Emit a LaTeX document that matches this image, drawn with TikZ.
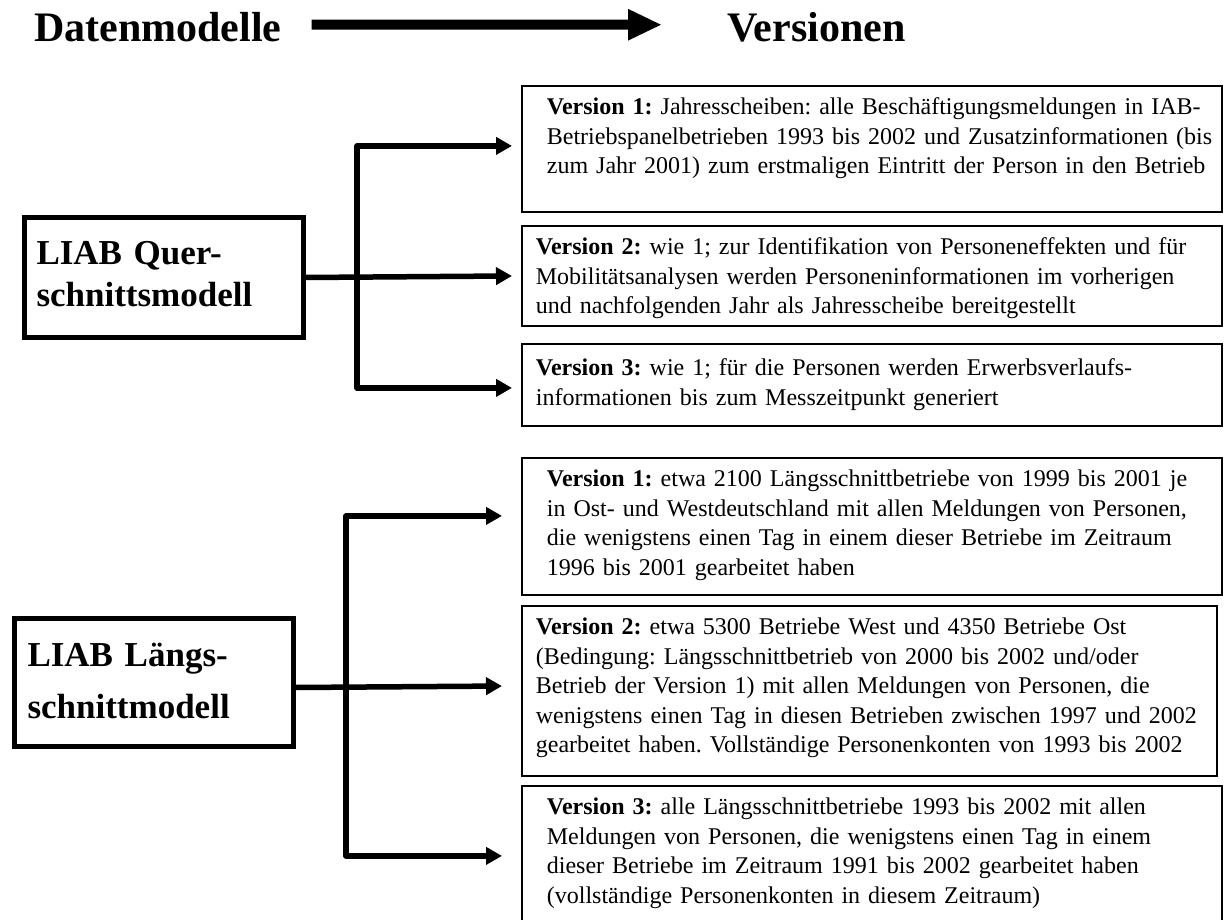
\documentclass[tikz,border=0pt]{standalone}
\usepackage{fontspec}
\setmainfont{Liberation Serif}
\usetikzlibrary{arrows.meta}

\begin{document}
\begin{tikzpicture}[x=1pt, y=-1pt,
    modbox/.style={draw, line width=5pt, anchor=north west, align=left, inner ysep=2pt,
      font=\fontsize{35pt}{42pt}\selectfont\bfseries,
      execute at begin node=\strut, execute at end node=\strut},
    verbox/.style={draw, line width=1.8pt, anchor=north west, align=left,
      inner xsep=0pt, inner ysep=2pt, text width=700pt, text height=27pt,
      font=\fontsize{24pt}{29.5pt}\selectfont\frenchspacing,
      execute at begin node={\leftskip=#1}},
    verbox/.default=14pt,
    conn/.style={line width=5.5pt, line join=round, -{Triangle[length=16pt,width=17pt]}},
    titletext/.style={inner sep=0pt, anchor=base west, font=\fontsize{42pt}{50pt}\selectfont\bfseries}]
  \fill[white] (0,0) rectangle (1224,920);
  \useasboundingbox (0,0) rectangle (1224,920);

  % Kopfzeile
  \node[titletext] (dm) at (34,42) {Datenmodelle};
  \node[titletext] (ver) at (727,42) {Versionen};
  \draw[line width=10pt, -{Triangle[length=34pt,width=29pt]}] ([xshift=30pt,yshift=3pt]dm.east) -- ([xshift=-65pt,yshift=3pt]ver.west);

  % Querschnittsmodell
  \node[modbox, minimum width=279pt, minimum height=119pt, inner xsep=12.5pt, text width=254pt] (quer) at (21.5,215.5) {LIAB Quer-\\schnittsmodell};
  \node[verbox=25pt, text depth=95pt] (qv1) at (521,85) {\textbf{Version 1:} Jahresscheiben: alle Beschäftigungsmeldungen in IAB-\\Betriebspanelbetrieben 1993 bis 2002 und Zusatzinformationen (bis\\zum Jahr 2001) zum erstmaligen Eintritt der Person in den Betrieb};
  \node[verbox, text depth=69pt] (qv2) at (521,225) {\textbf{Version 2:} wie 1; zur Identifikation von Personeneffekten und für\\Mobilitätsanalysen werden Personeninformationen im vorherigen\\und nachfolgenden Jahr als Jahresscheibe bereitgestellt};
  \node[verbox, text height=30pt, text depth=48pt] (qv3) at (521,343) {\textbf{Version 3:} wie 1; für die Personen werden Erwerbsverlaufs-\\informationen bis zum Messzeitpunkt generiert};

  \draw[conn, shorten >=9pt] (quer.east) -- (qv2.west);
  \draw[conn, shorten >=9pt] ([xshift=51.5pt]quer.east) |- ([yshift=3pt]qv1.west);
  \draw[conn, shorten >=9pt] ([xshift=51.5pt]quer.east) |- ([yshift=-3pt]qv3.west);

  % Laengsschnittmodell
  \node[modbox, minimum width=279pt, minimum height=128pt, inner xsep=13.5pt, text width=252pt, font=\fontsize{35pt}{52pt}\selectfont\bfseries] (laengs) at (11.5,615.5) {LIAB Längs-\\schnittmodell};
  \node[verbox=25pt, text depth=106pt] (lv1) at (521,457) {\textbf{Version 1:} etwa 2100 Längsschnittbetriebe von 1999 bis 2001 je\\in Ost- und Westdeutschland mit allen Meldungen von Personen,\\die wenigstens einen Tag in einem dieser Betriebe im Zeitraum\\1996 bis 2001 gearbeitet haben};
  \node[verbox, text width=695pt, text depth=139pt] (lv2) at (521,605) {\textbf{Version 2:} etwa 5300 Betriebe West und 4350 Betriebe Ost\\(Bedingung: Längsschnittbetrieb von 2000 bis 2002 und/oder\\Betrieb der Version 1) mit allen Meldungen von Personen, die\\wenigstens einen Tag in diesen Betrieben zwischen 1997 und 2002\\gearbeitet haben. Vollständige Personenkonten von 1993 bis 2002};
  \node[verbox=25pt, text depth=134pt] (lv3) at (521,785) {\textbf{Version 3:} alle Längsschnittbetriebe 1993 bis 2002 mit allen\\Meldungen von Personen, die wenigstens einen Tag in einem\\dieser Betriebe im Zeitraum 1991 bis 2002 gearbeitet haben\\(vollständige Personenkonten in diesem Zeitraum)};

  \draw[conn, shorten >=19pt] ([yshift=-5.5pt]laengs.east) -- ([yshift=5pt]lv2.west);
  \draw[conn, shorten >=19pt] ([xshift=50.5pt,yshift=-5.5pt]laengs.east) |- ([yshift=10.5pt]lv1.west);
  \draw[conn, shorten >=19pt] ([xshift=50.5pt,yshift=-5.5pt]laengs.east) |- ([yshift=12.5pt]lv3.west);
\end{tikzpicture}
\end{document}
